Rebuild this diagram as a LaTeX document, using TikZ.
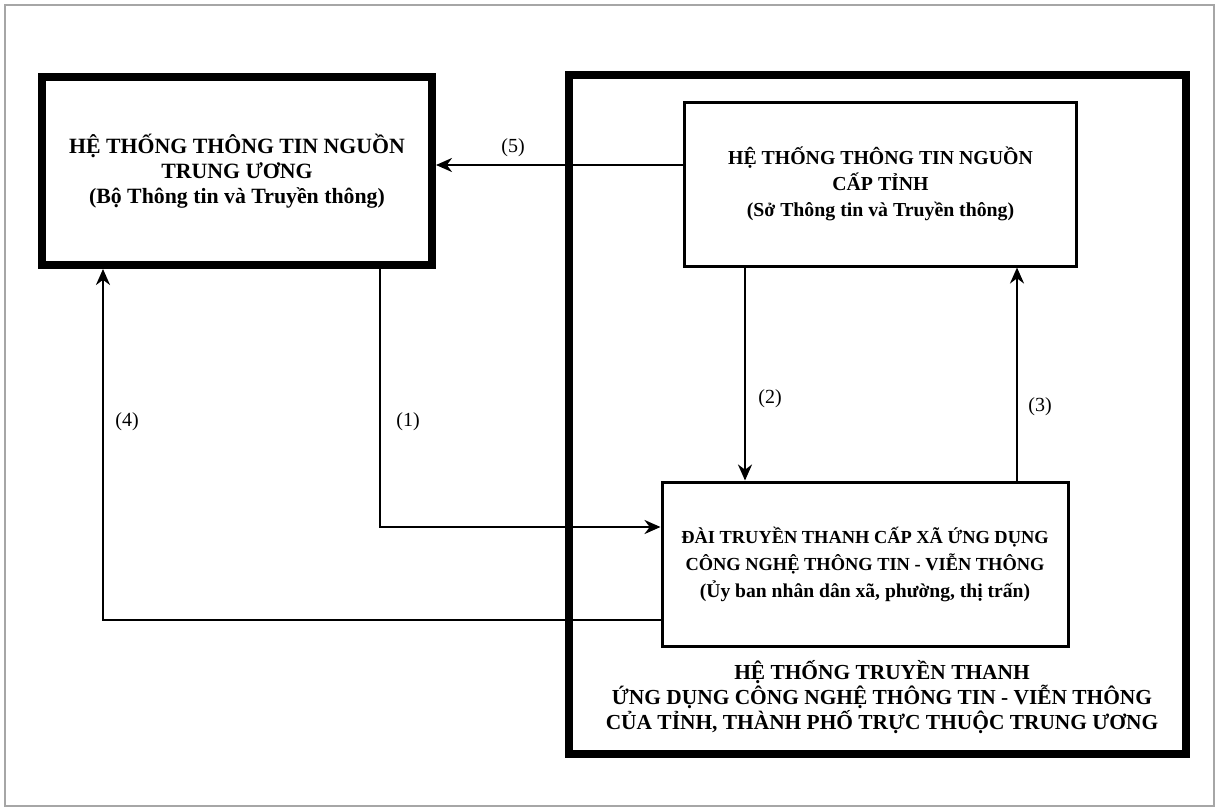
\documentclass[tikz,border=0pt]{standalone}
\usepackage{fontspec}
\setmainfont{Liberation Serif}
\usetikzlibrary{arrows.meta}
\usetikzlibrary{positioning}
\tikzset{>={Stealth[length=8pt,width=7pt]}}
\tikzset{
    thickbox/.style={draw,line width=4pt,inner sep=0pt,align=center},
    thinbox/.style={draw,line width=1.5pt,inner sep=0pt,align=center},
    flow/.style={->,line width=1.2pt},
    num/.style={font=\fontsize{10}{12}\selectfont},
}

\begin{document}
\begin{tikzpicture}[x=0.5pt,y=-0.5pt]
	\useasboundingbox (0,0) rectangle (1219,809);
	\draw[gray!70,line width=0.8pt] (5,5) rectangle (1214,806);
	% central source system
	\node[thickbox,minimum width=195pt,minimum height=94pt,
	      font=\bfseries\fontsize{10.9}{12.5}\selectfont] (central) at (237,171)
	      {HỆ THỐNG THÔNG TIN NGUỒN\\TRUNG ƯƠNG\\(Bộ Thông tin và Truyền thông)};
	% provincial broadcasting system
	\node[thickbox,minimum width=308.5pt,minimum height=339.5pt] (system) at (877,414.5) {};
	\node[thinbox,minimum width=196pt,minimum height=82pt,
	      font=\bfseries\fontsize{9.9}{13}\selectfont] (province) at (880.5,184)
	      {HỆ THỐNG THÔNG TIN NGUỒN\\CẤP TỈNH\\(Sở Thông tin và Truyền thông)};
	\node[thinbox,minimum width=203pt,minimum height=82pt,
	      font=\bfseries\fontsize{9.2}{13.5}\selectfont] (commune) at (865,564)
	      {ĐÀI TRUYỀN THANH CẤP XÃ ỨNG DỤNG\\CÔNG NGHỆ THÔNG TIN - VIỄN THÔNG\\{\fontsize{9.8}{13.5}\selectfont(Ủy ban nhân dân xã, phường, thị trấn)}};
	\node[align=center,font=\bfseries\fontsize{10.7}{12.5}\selectfont] (caption) at (882,697)
	      {HỆ THỐNG TRUYỀN THANH\\ỨNG DỤNG CÔNG NGHỆ THÔNG TIN - VIỄN THÔNG\\CỦA TỈNH, THÀNH PHỐ TRỰC THUỘC TRUNG ƯƠNG};
	% connectors
	\draw[flow] ([yshift=9.5pt]province.west) -- ([yshift=9.5pt]province.west -| central.east);
	\draw[flow] ([xshift=71.5pt]central.south) |- ([yshift=18.5pt]commune.west);
	\draw[flow] ([yshift=-28pt]commune.west) -| ([xshift=-67pt]central.south);
	\draw[flow] ([xshift=-67.75pt]province.south) -- ([xshift=-67.75pt]province.south |- commune.north);
	\draw[flow] ([xshift=68.25pt]province.south |- commune.north) -- ([xshift=68.25pt]province.south);
	\node[num] (n1) at (408,422) {(1)};
	\node[num] (n2) at (770,399) {(2)};
	\node[num] (n3) at (1040,407) {(3)};
	\node[num] (n4) at (127,422) {(4)};
	\node[num] (n5) at (513,148) {(5)};
\end{tikzpicture}
\end{document}
